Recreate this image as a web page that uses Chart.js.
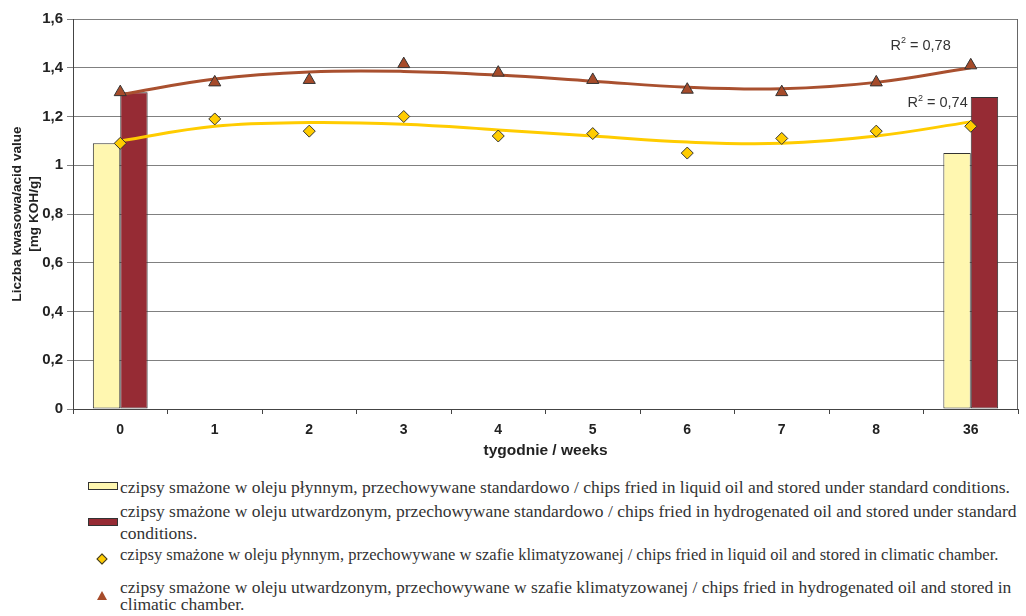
<!DOCTYPE html>
<html lang="pl">
<head>
  <meta charset="UTF-8">
  <title>Liczba kwasowa</title>
  <script src="https://cdn.jsdelivr.net/npm/chart.js"></script>
  <style>
    body { margin: 0; background: #fff; width: 1026px; height: 616px; overflow: hidden; position: relative; }
    #wrap { position: absolute; left: 0; top: 0; width: 1026px; height: 465px; }
    .leg { position: absolute; left: 120px; width: 904px; font-family: "Liberation Serif", "Times New Roman", serif;
           font-size: 17.5px; line-height: 22px; color: #333; }
    .sw { position: absolute; }
  </style>
</head>
<body>
  <div id="wrap"><canvas id="chart" width="1026" height="465"></canvas></div>

  <div class="sw" style="left:88px;top:482px;width:28px;height:6px;background:#fff7b0;border:1px solid #333;"></div>
  <div class="leg" style="top:476px;white-space:nowrap;">czipsy smażone w oleju płynnym, przechowywane standardowo / chips fried in liquid oil and stored under standard conditions.</div>

  <div class="sw" style="left:88px;top:518px;width:28px;height:6px;background:#962b34;border:1px solid #333;"></div>
  <div class="leg" style="top:500px;">czipsy smażone w oleju utwardzonym, przechowywane standardowo / chips fried in hydrogenated oil and stored under standard conditions.</div>

  <div class="sw" style="left:98px;top:555px;width:6px;height:6px;background:#ffcc00;border:1px solid #333;transform:rotate(45deg);"></div>
  <div class="leg" style="top:544px;white-space:nowrap;font-size:16.5px;">czipsy smażone w oleju płynnym, przechowywane w szafie klimatyzowanej / chips fried in liquid oil and stored in climatic chamber.</div>

  <div class="sw" style="left:97px;top:591px;width:0;height:0;border-left:5px solid transparent;border-right:5px solid transparent;border-bottom:9px solid #a64b2a;"></div>
  <div class="leg" style="top:579px;line-height:17px;">czipsy smażone w oleju utwardzonym, przechowywane w szafie klimatyzowanej / chips fried in hydrogenated oil and stored in<br>climatic chamber.</div>

  <script>
    const weeks = ['0', '1', '2', '3', '4', '5', '6', '7', '8', '36'];

    // bars: only at week 0 and 36
    const liquidStandard = [1.09, null, null, null, null, null, null, null, null, 1.05];
    const hydroStandard = [1.30, null, null, null, null, null, null, null, null, 1.28];

    // climatic chamber points
    const liquidClimatic = [1.09, 1.19, 1.14, 1.20, 1.12, 1.13, 1.05, 1.11, 1.14, 1.16];
    const hydroClimatic = [1.30, 1.34, 1.35, 1.415, 1.38, 1.35, 1.31, 1.30, 1.34, 1.41];

    // trend lines
    const liquidTrend = [1.10, 1.16, 1.175, 1.168, 1.145, 1.12, 1.095, 1.09, 1.12, 1.178];
    const hydroTrend = [1.29, 1.354, 1.383, 1.385, 1.37, 1.345, 1.32, 1.314, 1.34, 1.40];

    const r2Labels = ['0,78', '0,74'];

    const extras = {
      id: 'extras',
      afterDatasetsDraw(chart) {
        const { ctx, chartArea, scales } = chart;
        ctx.save();
        // right border of plot
        ctx.strokeStyle = '#666';
        ctx.lineWidth = 1;
        ctx.beginPath();
        ctx.moveTo(chartArea.right - 0.5, chartArea.top);
        ctx.lineTo(chartArea.right - 0.5, chartArea.bottom);
        ctx.stroke();

        // R² labels
        const big = '14.5px "Liberation Sans", Arial, sans-serif';
        const small = '9px "Liberation Sans", Arial, sans-serif';
        const xr = scales.x.getPixelForValue(9);
        const spots = [
          { text: r2Labels[0], right: xr - 20, y: scales.y.getPixelForValue(1.49) },
          { text: r2Labels[1], right: xr - 3, y: scales.y.getPixelForValue(1.255) }
        ];
        ctx.fillStyle = '#333';
        ctx.textBaseline = 'middle';
        spots.forEach(s => {
          ctx.font = big;
          const rest = ' = ' + s.text;
          const wRest = ctx.measureText(rest).width;
          const wR = ctx.measureText('R').width;
          ctx.font = small;
          const w2 = ctx.measureText('2').width;
          let x = s.right - wRest - w2 - wR;
          ctx.font = big;
          ctx.fillText('R', x, s.y);
          ctx.font = small;
          ctx.fillText('2', x + wR, s.y - 5);
          ctx.font = big;
          ctx.fillText(rest, x + wR + w2, s.y);
        });
        ctx.restore();
      }
    };

    const ctx = document.getElementById('chart').getContext('2d');
    new Chart(ctx, {
      type: 'bar',
      data: {
        labels: weeks,
        datasets: [
          {
            type: 'line', data: hydroClimatic, order: 0, showLine: false,
            pointStyle: 'triangle', pointRadius: 7, pointBackgroundColor: '#a64b2a',
            pointBorderColor: '#333', pointBorderWidth: 1
          },
          {
            type: 'line', data: liquidClimatic, order: 0, showLine: false,
            pointStyle: 'rectRot', pointRadius: 6, pointBackgroundColor: '#ffcc00',
            pointBorderColor: '#333', pointBorderWidth: 1
          },
          {
            type: 'line', data: hydroTrend, order: 1, borderColor: '#a9502f', borderWidth: 3,
            pointRadius: 0, tension: 0.4, fill: false
          },
          {
            type: 'line', data: liquidTrend, order: 1, borderColor: '#ffcc00', borderWidth: 3,
            pointRadius: 0, tension: 0.4, fill: false
          },
          {
            data: liquidStandard, order: 3, backgroundColor: '#fff7b0', borderColor: '#333',
            borderWidth: 1, borderSkipped: false, categoryPercentage: 0.58, barPercentage: 1
          },
          {
            data: hydroStandard, order: 3, backgroundColor: '#962b34', borderColor: '#333',
            borderWidth: 1, borderSkipped: false, categoryPercentage: 0.58, barPercentage: 1
          }
        ]
      },
      options: {
        responsive: false,
        animation: false,
        layout: { padding: { top: 19, right: 5, left: 0, bottom: 0 } },
        plugins: { legend: { display: false }, tooltip: { enabled: false } },
        scales: {
          x: {
            afterFit: s => { s.height = 56; },
            grid: { offset: true, drawOnChartArea: false, tickLength: 5, color: '#444' },
            border: { color: '#444' },
            ticks: { color: '#222', padding: 8, font: { family: 'Liberation Sans', weight: 'bold', size: 14 } },
            title: {
              display: true, text: 'tygodnie / weeks', color: '#222',
              font: { family: 'Liberation Sans', weight: 'bold', size: 15.5 }, padding: { top: 2, bottom: 5 }
            }
          },
          y: {
            min: 0, max: 1.6,
            afterFit: s => { s.width = 73; },
            grid: { color: '#808080', tickLength: 6 },
            border: { color: '#444' },
            ticks: {
              stepSize: 0.2, color: '#222', padding: 4,
              font: { family: 'Liberation Sans', weight: 'bold', size: 15 },
              callback: v => String(Math.round(v * 10) / 10).replace('.', ',')
            },
            title: {
              display: true, text: ['Liczba kwasowa/acid value', '[mg KOH/g]'], color: '#222',
              font: { family: 'Liberation Sans', weight: 'bold', size: 13.6, lineHeight: 1.3 },
              padding: { top: 8, bottom: 0 }
            }
          }
        }
      },
      plugins: [extras]
    });
  </script>
</body>
</html>
